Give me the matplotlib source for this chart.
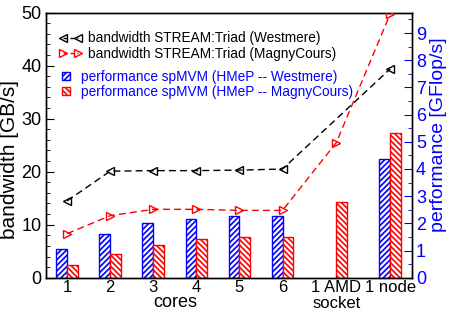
import matplotlib
matplotlib.use("Agg")
import matplotlib.pyplot as plt
from matplotlib.lines import Line2D
from matplotlib.patches import Patch
import numpy as np

plt.rcParams['font.family'] = ['Liberation Sans', 'DejaVu Sans']
plt.rcParams['hatch.linewidth'] = 1.2

categories = ["1", "2", "3", "4", "5", "6", "1 AMD\nsocket", "1 node"]
positions = [1, 2, 3, 4, 5, 6, 7.25, 8.5]

# bandwidth GB/s (left axis)
bw_westmere = [14.5, 20.1, 20.2, 20.2, 20.3, 20.5, np.nan, 39.4]
bw_magny = [8.3, 11.7, 12.9, 12.9, 12.7, 12.7, 25.5, 49.8]

# performance GFlop/s (right axis)
perf_westmere = [1.04, 1.6, 2.0, 2.15, 2.26, 2.27, np.nan, 4.37]
perf_magny = [0.48, 0.89, 1.22, 1.41, 1.48, 1.48, 2.78, 5.33]

fig = plt.figure(figsize=(4.51, 3.14), dpi=100)
ax = fig.add_axes([0.101, 0.1156, 0.812, 0.844])
ax2 = ax.twinx()

pos = np.array(positions)
w = 0.25
pw = np.array(perf_westmere)
pm = np.array(perf_magny)
mw = ~np.isnan(pw)
ax2.bar(pos[mw] - w/2, pw[mw], width=w, facecolor='white', edgecolor='blue', hatch='//////', linewidth=1.0)
ax2.bar(pos + w/2, pm, width=w, facecolor='white', edgecolor='red', hatch='\\\\\\\\\\\\', linewidth=1.0)

bw = np.array(bw_westmere)
mbw = ~np.isnan(bw)
ax.plot(pos[mbw], bw[mbw], ls=(0, (5, 3)), color='black', marker='<', mfc='none', mec='black', ms=6, lw=1.0, zorder=5)
ax.plot(pos, bw_magny, ls=(0, (5, 3)), color='red', marker='>', mfc='none', mec='red', ms=6, lw=1.0, zorder=5)

ax.set_zorder(ax2.get_zorder() + 1)
ax.patch.set_visible(False)

ax.set_xlim(0.5, 9.0)
ax.set_ylim(0, 50)
ax2.set_ylim(0, 9.75)

ax.set_xticks(positions)
ax.set_xticklabels(categories, fontsize=12, linespacing=1.05)
ax.tick_params(axis='x', length=0, pad=2)
ax.set_yticks(np.arange(0, 51, 10))
ax.set_yticks(np.arange(0, 51, 2), minor=True)
ax.tick_params(axis='y', which='major', direction='in', length=6, labelsize=13, pad=3)
ax.tick_params(axis='y', which='minor', direction='in', length=3)

ax2.set_yticks(np.arange(0, 10, 1))
ax2.set_yticks(np.arange(0, 10, 0.5), minor=True)
ax2.tick_params(axis='y', which='major', direction='in', length=6, labelsize=13, colors='blue', pad=3)
ax2.tick_params(axis='y', which='minor', direction='in', length=3, colors='blue')

ax.set_ylabel("bandwidth [GB/s]", fontsize=15)
ax.yaxis.set_label_coords(-0.072, 0.445)
ax2.set_ylabel("performance [GFlop/s]", fontsize=14, color='blue')
ax2.yaxis.set_label_coords(1.05, 0.54)
ax.text(3.5, -0.063, "cores", transform=ax.get_xaxis_transform(), ha='center', va='top', fontsize=13)

for a in (ax, ax2):
    for s in a.spines.values():
        s.set_linewidth(1.0)

h1 = [Line2D([], [], ls=(0, (3, 2)), color='black', marker='<', mfc='none', ms=5.5, lw=1.0),
      Line2D([], [], ls=(0, (3, 2)), color='red', marker='>', mfc='none', ms=5.5, lw=1.0)]
leg1 = ax.legend(h1, ["bandwidth STREAM:Triad (Westmere)", "bandwidth STREAM:Triad (MagnyCours)"],
                 loc='upper left', bbox_to_anchor=(0.021, 0.95), frameon=False, fontsize=9.8,
                 numpoints=2, handlelength=1.7, handletextpad=0.47, labelspacing=0.1, borderaxespad=0)
ax.add_artist(leg1)
h2 = [Patch(facecolor='white', edgecolor='blue', hatch='//////'),
      Patch(facecolor='white', edgecolor='red', hatch='\\\\\\\\\\\\')]
leg2 = ax.legend(h2, ["performance spMVM (HMeP -- Westmere)", "performance spMVM (HMeP -- MagnyCours)"],
                 loc='upper left', bbox_to_anchor=(0.029, 0.805), frameon=False, fontsize=9.8,
                 handlelength=0.6, handleheight=0.55, handletextpad=0.85, labelspacing=0.1, borderaxespad=0,
                 labelcolor='blue')

fig.savefig("out.png", dpi=100)
